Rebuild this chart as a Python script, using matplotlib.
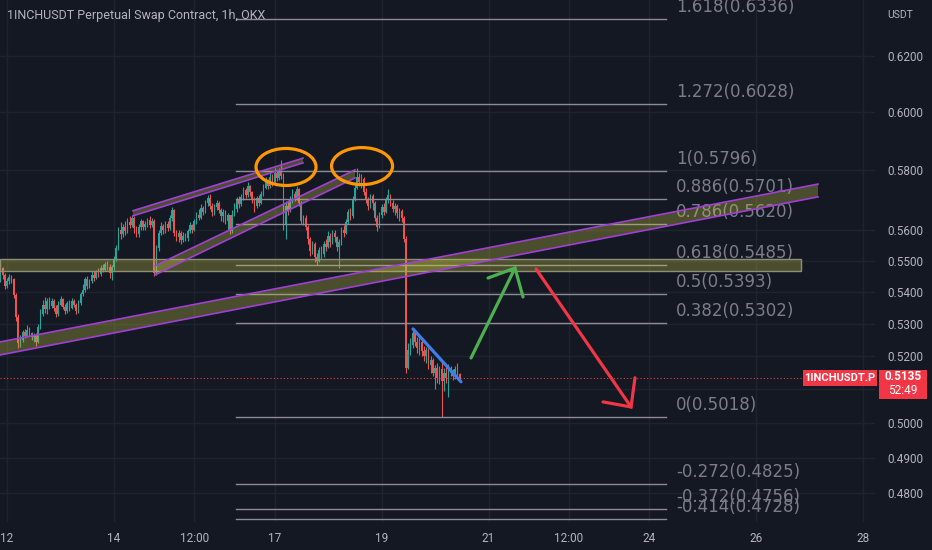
import numpy as np
import matplotlib
matplotlib.use("Agg")
import matplotlib.pyplot as plt
import matplotlib.patches as mpatches
import matplotlib.transforms as mtransforms
from matplotlib.ticker import NullLocator, NullFormatter, FixedLocator

plt.rcParams['font.family'] = ['Roboto', 'DejaVu Sans']

# ---------------- data (prices in 1e-4 USDT) ----------------
open_first = 5440
closes = [5475, 5455, 5420, 5435, 5448, 5440, 5390, 5320, 5240, 5250,
          5275, 5262, 5280, 5270, 5258, 5265, 5245, 5290, 5330, 5360,
          5345, 5370, 5355, 5372, 5350, 5330, 5360, 5378, 5352, 5340,
          5365, 5348, 5372, 5360, 5340, 5365, 5392, 5405, 5440, 5418,
          5435, 5455, 5445, 5465, 5458, 5475, 5470, 5488, 5480, 5460,
          5478, 5505, 5540, 5600, 5585, 5610, 5595, 5625, 5615, 5640,
          5605, 5585, 5610, 5628, 5610, 5618, 5632, 5615, 5628, 5460,
          5540, 5590, 5612, 5598, 5620, 5605, 5640, 5665, 5590, 5575,
          5590, 5568, 5580, 5572, 5595, 5615, 5600, 5628, 5650, 5640,
          5672, 5660, 5690, 5705, 5680, 5660, 5675, 5690, 5665, 5645,
          5660, 5630, 5648, 5595, 5650, 5670, 5700, 5685, 5710, 5732,
          5715, 5745, 5725, 5700, 5680, 5705, 5690, 5720, 5740, 5760,
          5745, 5775, 5760, 5790, 5772, 5795, 5780, 5620, 5680, 5665,
          5700, 5720, 5705, 5735, 5690, 5630, 5640, 5610, 5570, 5530,
          5555, 5510, 5500, 5535, 5520, 5555, 5545, 5580, 5560, 5590,
          5575, 5545, 5560, 5600, 5590, 5625, 5660, 5645, 5700, 5740,
          5775, 5760, 5770, 5725, 5700, 5680, 5712, 5690, 5640, 5610,
          5650, 5675, 5660, 5700, 5715, 5690, 5670, 5680, 5655, 5662,
          5640, 5570, 5165, 5220, 5235, 5270, 5245, 5225, 5245, 5215,
          5200, 5220, 5175, 5190, 5150, 5165, 5135, 5160, 5125, 5150,
          5135, 5165, 5150, 5140, 5160, 5145, 5135]
highs = [5490, 5480, 5460, 5445, 5458, 5455, 5445, 5395, 5330, 5265,
         5280, 5285, 5295, 5290, 5275, 5272, 5270, 5300, 5345, 5375,
         5385, 5380, 5385, 5382, 5378, 5360, 5372, 5386, 5382, 5362,
         5372, 5375, 5380, 5378, 5365, 5375, 5400, 5425, 5448, 5452,
         5440, 5465, 5468, 5470, 5475, 5485, 5490, 5495, 5500, 5490,
         5485, 5515, 5550, 5610, 5625, 5620, 5630, 5640, 5645, 5650,
         5645, 5612, 5618, 5636, 5632, 5628, 5640, 5645, 5638, 5635,
         5550, 5600, 5625, 5620, 5630, 5628, 5650, 5675, 5668, 5600,
         5598, 5595, 5592, 5590, 5602, 5625, 5620, 5636, 5660, 5670,
         5685, 5680, 5700, 5716, 5718, 5690, 5685, 5698, 5695, 5672,
         5668, 5665, 5656, 5650, 5665, 5690, 5710, 5712, 5720, 5742,
         5740, 5760, 5750, 5730, 5708, 5712, 5715, 5728, 5752, 5775,
         5768, 5792, 5785, 5805, 5800, 5808, 5834, 5790, 5695, 5700,
         5712, 5735, 5728, 5745, 5740, 5695, 5650, 5648, 5615, 5575,
         5565, 5560, 5525, 5545, 5548, 5565, 5570, 5595, 5590, 5600,
         5598, 5580, 5570, 5610, 5615, 5635, 5670, 5672, 5712, 5752,
         5806, 5790, 5785, 5775, 5740, 5710, 5720, 5718, 5695, 5650,
         5660, 5685, 5690, 5710, 5735, 5720, 5700, 5690, 5685, 5672,
         5668, 5645, 5580, 5240, 5255, 5285, 5280, 5258, 5255, 5250,
         5230, 5228, 5225, 5200, 5195, 5175, 5180, 5172, 5190, 5165,
         5175, 5178, 5170, 5160, 5170, 5180, 5150]
lows = [5430, 5440, 5410, 5412, 5425, 5428, 5380, 5310, 5225, 5228,
        5245, 5255, 5258, 5262, 5250, 5245, 5232, 5240, 5285, 5325,
        5335, 5330, 5345, 5350, 5340, 5322, 5325, 5355, 5345, 5332,
        5335, 5340, 5345, 5352, 5330, 5335, 5360, 5388, 5400, 5410,
        5412, 5428, 5435, 5440, 5448, 5450, 5462, 5465, 5470, 5445,
        5438, 5470, 5500, 5535, 5570, 5578, 5582, 5590, 5605, 5608,
        5590, 5575, 5578, 5600, 5600, 5598, 5610, 5605, 5610, 5450,
        5455, 5530, 5582, 5585, 5590, 5595, 5600, 5630, 5580, 5565,
        5560, 5555, 5560, 5563, 5565, 5590, 5590, 5595, 5620, 5632,
        5635, 5648, 5655, 5680, 5670, 5645, 5650, 5665, 5655, 5630,
        5625, 5620, 5600, 5585, 5590, 5645, 5660, 5672, 5680, 5700,
        5705, 5710, 5712, 5690, 5660, 5672, 5680, 5685, 5712, 5735,
        5735, 5740, 5745, 5755, 5762, 5765, 5770, 5600, 5570, 5650,
        5660, 5690, 5695, 5700, 5680, 5620, 5615, 5600, 5555, 5515,
        5520, 5495, 5487, 5495, 5505, 5512, 5530, 5540, 5545, 5555,
        5560, 5530, 5475, 5552, 5575, 5585, 5620, 5632, 5640, 5695,
        5735, 5745, 5740, 5715, 5690, 5665, 5672, 5665, 5630, 5595,
        5605, 5640, 5650, 5655, 5690, 5680, 5658, 5650, 5640, 5630,
        5625, 5560, 5150, 5160, 5205, 5225, 5230, 5210, 5205, 5200,
        5185, 5180, 5160, 5150, 5140, 5100, 5120, 5115, 5018, 5095,
        5120, 5078, 5140, 5128, 5132, 5138, 5130]
gray_candles = [14, 22, 31, 39, 57, 83, 91, 99, 127, 135, 151, 168, 203]
start_day = 11.875          # first candle: 11th, 21:00
candle_hours = 1 / 24

fib_levels = ["1.618", "1.272", "1", "0.886", "0.786", "0.618", "0.5", "0.382", "0", "-0.272", "-0.372", "-0.414"]
fib_prices = [0.6336, 0.6028, 0.5796, 0.5701, 0.5620, 0.5485, 0.5393, 0.5302, 0.5018, 0.4825, 0.4756, 0.4728]
fib_x = [16.28, 24.32]

price_ticks = [0.62, 0.60, 0.58, 0.56, 0.55, 0.54, 0.53, 0.52, 0.51, 0.50, 0.49, 0.48]
price_labels = ["0.6200", "0.6000", "0.5800", "0.5600", "0.5500", "0.5400", "0.5300", "0.5200", "", "0.5000", "0.4900", "0.4800"]
time_ticks = [12, 14, 15.5, 17, 19, 21, 22.5, 24, 26, 28]
time_labels = ["12", "14", "12:00", "17", "19", "21", "12:00", "24", "26", "28"]

last_price = 0.5135
countdown = "52:49"
symbol = "1INCHUSDT.P"
title = "1INCHUSDT Perpetual Swap Contract, 1h, OKX"

# drawings (day, price)
hband = [(11.869, 0.5505), (26.84, 0.5467)]
long_band = [(11.869, 0.5244), (27.159, 0.5752), (27.159, 0.5709), (11.869, 0.5204)]
upper_band = [(14.355, 0.5663), (17.533, 0.5840), (17.533, 0.5824), (14.355, 0.5646)]
lower_band = [(14.766, 0.5483), (18.505, 0.5800), (18.505, 0.5773), (14.766, 0.5454)]
ellipses = [(17.215, 0.5810, 0.60, 0.37), (18.636, 0.5813, 0.61, 0.37)]
blue_line = [(19.589, 0.5284), (20.486, 0.5123)]
green_arrow = [(20.673, 0.5195), (21.495, 0.5476)]
green_barbs = [(20.991, 0.5444), (21.495, 0.5476), (21.645, 0.5384)]
red_arrow = [(21.888, 0.5473), (23.664, 0.5048)]
red_barbs = [(23.140, 0.5063), (23.664, 0.5048), (23.738, 0.5135)]

# ---------------- styling ----------------
BG = '#141823'
GRID = '#1f2330'
TXT = '#b2b5be'
UP = '#26a69a'
DN = '#ef5350'
GRAY = '#7d7f89'
PURPLE = '#a03fd8'
OLIVE = (0.76, 0.76, 0.25, 0.32)

W, H = 932, 550
fig = plt.figure(figsize=(W / 100, H / 100), dpi=100, facecolor=BG)
ax = fig.add_axes([0, 28 / H, 875 / W, 1 - 28 / H])
ax.set_facecolor(BG)
ax.set_yscale('log')
ax.set_xlim(11.869, 28.224)
ax.set_ylim(0.4719, 0.6407)
for s in ax.spines.values():
    s.set_visible(False)

ax.yaxis.set_major_locator(FixedLocator(price_ticks))
ax.yaxis.set_minor_locator(NullLocator())
ax.yaxis.set_minor_formatter(NullFormatter())
ax.set_yticks(price_ticks)
ax.set_yticklabels(price_labels)
ax.yaxis.tick_right()
ax.tick_params(axis='y', length=0, pad=8.6, labelsize=8.5, labelcolor=TXT)
ax.set_xticks(time_ticks)
ax.set_xticklabels(time_labels)
ax.tick_params(axis='x', length=0, pad=7, labelsize=8.5, labelcolor=TXT)
ax.grid(True, color=GRID, lw=1)
ax.set_axisbelow(True)

# ---------------- candles ----------------
c = np.array(closes) / 1e4
o = np.concatenate([[open_first], closes[:-1]]) / 1e4
h = np.maximum(np.array(highs) / 1e4, np.maximum(o, c))
l = np.minimum(np.array(lows) / 1e4, np.minimum(o, c))
t = start_day + np.arange(len(c)) * candle_hours
cols = np.where(c >= o, UP, DN).astype(object)
for g in gray_candles:
    cols[g] = GRAY
ax.vlines(t, l, h, colors=list(cols), lw=0.8, zorder=2)
bot = np.minimum(o, c)
hgt = np.maximum(np.abs(c - o), 0.0004)
ax.bar(t, hgt, bottom=bot, width=0.7 * candle_hours, color=list(cols), lw=0, zorder=2)

# ---------------- fib levels ----------------
for lv, p in zip(fib_levels, fib_prices):
    ax.plot(fib_x, [p, p], color='#8a8d96', lw=1, zorder=3)
    ax.annotate(f"{lv}({p:.4f})", (fib_x[1], p), xytext=(10, 3), textcoords='offset pixels',
                ha='left', va='bottom', fontsize=12, family=['DejaVu Sans'],
                color='#7b7e89', zorder=3, annotation_clip=False)

# ---------------- bands ----------------
(x0, y0), (x1, y1) = hband
ax.add_patch(mpatches.Rectangle((x0, y1), x1 - x0, y0 - y1, facecolor=OLIVE,
                                edgecolor='#8f8f78', lw=1, zorder=4))
for poly in (long_band, upper_band, lower_band):
    ax.add_patch(mpatches.Polygon(poly, closed=True, facecolor=OLIVE, edgecolor='none', zorder=4))
    ax.plot([poly[0][0], poly[1][0]], [poly[0][1], poly[1][1]], color=PURPLE, lw=1.2, zorder=5)
    ax.plot([poly[3][0], poly[2][0]], [poly[3][1], poly[2][1]], color=PURPLE, lw=1.2, zorder=5)

# ---------------- ellipses ----------------
for cx, cy, ew, eh in ellipses:
    tr = fig.dpi_scale_trans + mtransforms.ScaledTranslation(cx, cy, ax.transData)
    ax.add_patch(mpatches.Ellipse((0, 0), ew, eh, transform=tr, fill=False,
                                  edgecolor='#ff9800', lw=2.3, zorder=6))

# ---------------- lines / arrows ----------------
ax.plot(*zip(*blue_line), color='#3f7ee8', lw=2.3, solid_capstyle='round', zorder=6)
ax.plot(*zip(*green_arrow), color='#4caf50', lw=2.3, solid_capstyle='round', zorder=6)
ax.plot(*zip(*green_barbs), color='#4caf50', lw=2.3, solid_capstyle='round', solid_joinstyle='miter', zorder=6)
ax.plot(*zip(*red_arrow), color='#f23645', lw=2.3, solid_capstyle='round', zorder=6)
ax.plot(*zip(*red_barbs), color='#f23645', lw=2.3, solid_capstyle='round', solid_joinstyle='miter', zorder=6)

# last price line
ax.plot([11.869, 26.88], [last_price, last_price], color='#f23645', lw=0.8, ls=(0, (1, 2)), zorder=3)

# ---------------- labels ----------------
fig.text(7 / W, 1 - 16 / H, title, fontsize=9, color=TXT, va='center', ha='left')
fig.text(900 / W, 1 - 15 / H, "USDT", fontsize=7.5, color=TXT, va='center', ha='center')

fig.canvas.draw()
yd = ax.transData.transform((20, last_price))[1]  # display pixels from bottom
fig.patches.append(mpatches.Rectangle((803, yd - 8), 74, 16, transform=None,
                                      facecolor='#f23645', edgecolor='none', zorder=10))
fig.patches.append(mpatches.Rectangle((879, yd - 21), 48, 29, transform=None,
                                      facecolor='#f23645', edgecolor='none', zorder=10))
fig.text(840 / W, yd / H, symbol, fontsize=8, color='white', fontweight='bold', ha='center', va='center', zorder=11)
fig.text(903 / W, (yd + 1) / H, f"{last_price:.4f}", fontsize=8.5, color='white', fontweight='bold', ha='center', va='center', zorder=11)
fig.text(903 / W, (yd - 13) / H, countdown, fontsize=8.5, color='white', ha='center', va='center', zorder=11)

fig.savefig("out.png", dpi=100, facecolor=BG)
